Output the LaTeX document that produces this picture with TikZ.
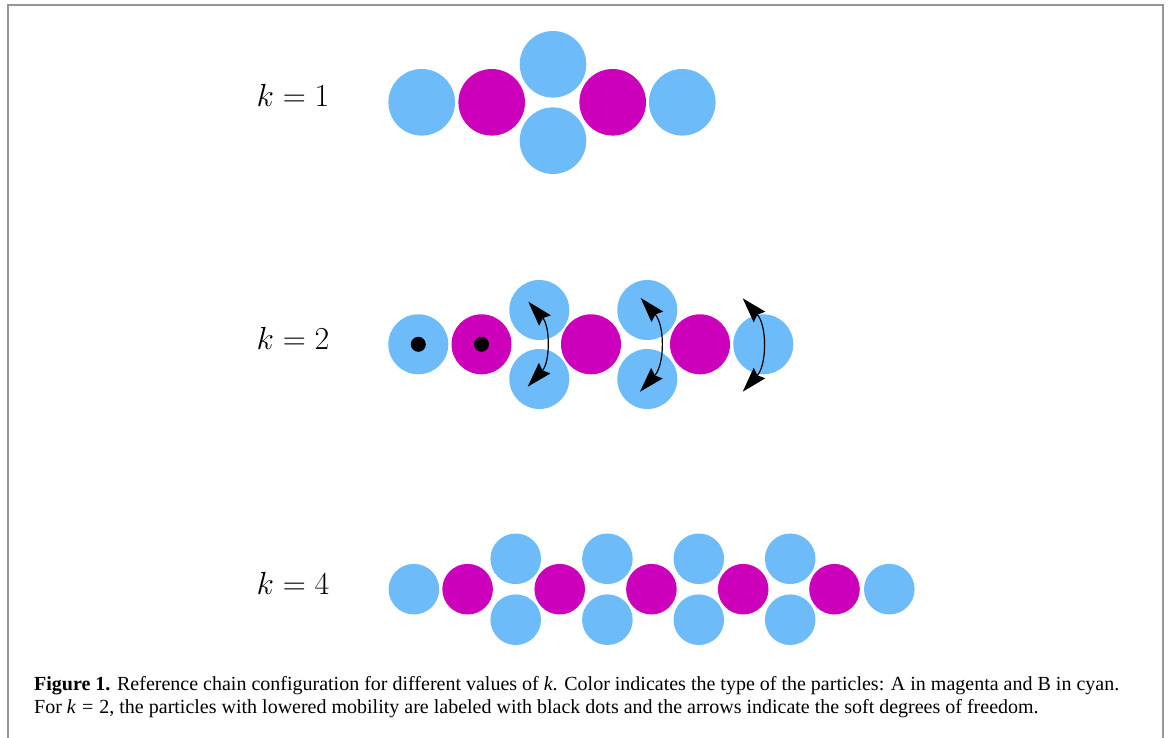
\documentclass[tikz,border=0pt]{standalone}
\usepackage{fontspec}
\setmainfont{Liberation Serif}
\usetikzlibrary{arrows.meta}

\definecolor{ballA}{RGB}{204,0,187}
\definecolor{ballB}{RGB}{110,187,250}
\definecolor{frameGray}{RGB}{150,150,150}

% chain labels: largest math size, enlarged
\newcommand{\chainlabel}[1]{\scalebox{1.285}{$k=#1$}}

\tikzset{
  ball/.style={circle, inner sep=0pt, outer sep=0pt, draw=none, minimum size=#1},
  typeA/.style={ball=#1, fill=ballA},
  typeB/.style={ball=#1, fill=ballB},
  pinned/.style={circle, fill=black, inner sep=0pt, minimum size=15pt},
  soft/.style={<->, >={Stealth[length=25pt,width=15.5pt,inset=3pt]},
    line width=1.2pt, black},
  klabel/.style={font=\fontsize{24.88}{30}\selectfont, anchor=base, inner sep=0pt},
  captext/.style={font=\fontsize{20}{24}\selectfont, anchor=base west, inner sep=0pt},
}

\begin{document}
\begin{tikzpicture}[x=1pt,y=-1pt]
\useasboundingbox (0,0) rectangle (1170,738);

% frame
\draw[frameGray, line width=2pt] (8,738) -- (8,5) -- (1163,5) -- (1163,738);

% ---- k = 1 ----
\node[klabel] (lab1) at (293,107) {\chainlabel{1}};
\node[typeB=66.6pt] (p1b1) at (421.7,102.3) {};
\node[typeA=66.6pt] (p1a1) at (491.7,102.3) {};
\node[typeB=66.6pt] (p1t)  at (553,64.3) {};
\node[typeB=66.6pt] (p1d)  at (553,140.7) {};
\node[typeA=66.6pt] (p1a2) at (612.7,102.3) {};
\node[typeB=66.6pt] (p1b2) at (682.3,102.3) {};

% ---- k = 2 ----
\node[klabel] (lab2) at (293,349) {\chainlabel{2}};
\node[typeB=60pt] (p2b1) at (418.3,344.3) {};
\node[typeA=60pt] (p2a1) at (481.5,344.3) {};
\node[typeB=60pt] (p2t1) at (539.3,310) {};
\node[typeB=60pt] (p2d1) at (539.3,379) {};
\node[typeA=60pt] (p2a2) at (591,344.3) {};
\node[typeB=60pt] (p2t2) at (647.3,310) {};
\node[typeB=60pt] (p2d2) at (647.3,379) {};
\node[typeA=60pt] (p2a3) at (700,344.3) {};
\node[typeB=60pt] (p2b2) at (763.3,344.3) {};
\node[pinned] (dot1) at (p2b1) {};
\node[pinned] (dot2) at (p2a1) {};

% soft degrees of freedom
\coordinate (s1up) at (528.3,301.7);
\coordinate (s1dn) at (527.7,386.7);
\coordinate (s2up) at (640.7,298.0);
\coordinate (s2dn) at (640.0,391.7);
\coordinate (s3up) at (742.7,298.3);
\coordinate (s3dn) at (742.7,391.7);
\draw[soft] (s1dn) to[bend right=42] (s1up);
\draw[soft] (s2dn) to[bend right=42] (s2up);
\draw[soft] (s3dn) to[bend right=42] (s3up);

% ---- k = 4 ----
\node[klabel] (lab4) at (293,594) {\chainlabel{4}};
\foreach \i/\x in {1/413.9, 2/889.3}
  \node[typeB=50.6pt] (p4e\i) at (\x,589.2) {};
\foreach \i/\x in {1/467.6, 2/559.7, 3/651.4, 4/743.2, 5/834.5}
  \node[typeA=50.6pt] (p4a\i) at (\x,589.2) {};
\foreach \i/\x in {1/515.7, 2/607.4, 3/698.8, 4/790.2} {
  \node[typeB=50.6pt] (p4t\i) at (\x,558.8) {};
  \node[typeB=50.6pt] (p4d\i) at (\x,619.7) {};
}

% caption
\node[captext] (cap1) at (34,690) {\textbf{Figure 1.} Reference chain configuration for different values of \textit{k}. Color indicates the type of the particles: A in magenta and B in cyan.};
\node[captext] (cap2) at (34,713) {For \textit{k}\hspace{0.3em}=\hspace{0.3em}2, the particles with lowered mobility are labeled with black dots and the arrows indicate the soft degrees of freedom.};
\end{tikzpicture}
\end{document}
